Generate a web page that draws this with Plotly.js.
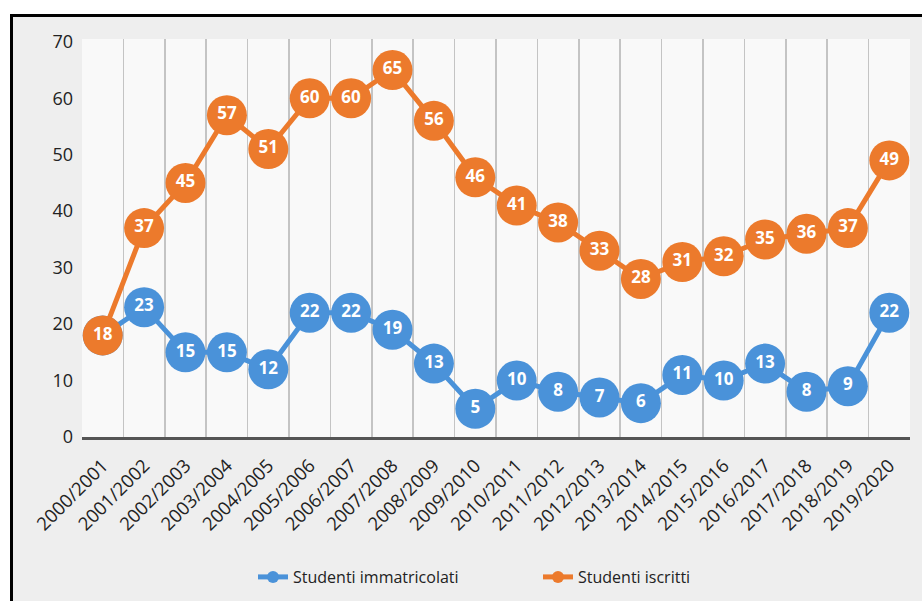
<!DOCTYPE html>
<html><head><meta charset="utf-8">
<script src="https://cdn.plot.ly/plotly-3.0.1.min.js"></script>
<style>
html,body{margin:0;padding:0;background:#fff;width:922px;height:601px;overflow:hidden;}
#frame{position:absolute;left:10px;top:14px;width:912px;height:587px;border-top:3px solid #000;border-left:3px solid #000;box-sizing:border-box;background:#eeeeee;}
#chart{width:909px;height:584px;}
</style></head>
<body>
<div id="frame"><div id="chart"></div></div>
<script>
const categories = ["2000/2001","2001/2002","2002/2003","2003/2004","2004/2005","2005/2006","2006/2007","2007/2008","2008/2009","2009/2010","2010/2011","2011/2012","2012/2013","2013/2014","2014/2015","2015/2016","2016/2017","2017/2018","2018/2019","2019/2020"];
const immatricolati = [18,23,15,15,12,22,22,19,13,5,10,8,7,6,11,10,13,8,9,22];
const iscritti = [18,37,45,57,51,60,60,65,56,46,41,38,33,28,31,32,35,36,37,49];
const yTicks = [0,10,20,30,40,50,60,70];

const blue = '#4a92d9', orange = '#ec7a2c';
const font = '"Open Sans", "Noto Sans", sans-serif';

function trace(name, y, color){
  return {
    type:'scatter', mode:'lines+markers+text', name:name,
    x:categories, y:y, text:y.map(String),
    textposition:'middle center',
    textfont:{family:font, size:17, color:'#ffffff', weight:'bold'},
    line:{color:color, width:5},
    marker:{color:color, size:40},
    cliponaxis:false
  };
}

const data = [trace('Studenti immatricolati', immatricolati, blue), trace('Studenti iscritti', iscritti, orange)];

const layout = {
  width:909, height:584,
  paper_bgcolor:'#eeeeee', plot_bgcolor:'#f9f9f9',
  margin:{l:69, r:12, t:22, b:164, autoexpand:false},
  font:{family:font, color:'#222'},
  showlegend:true,
  legend:{orientation:'h', x:(253-82)/828, xanchor:'left', y:(437-577)/398, yanchor:'middle',
          entrywidth:240, entrywidthmode:'pixels',
          font:{family:font, size:16, color:'#222'}, itemsizing:'constant', bgcolor:'rgba(0,0,0,0)'},
  xaxis:{type:'category', range:[-0.5,19.5], tickson:'boundaries', showgrid:true,
         gridcolor:'#c4c4c4', gridwidth:1.5, ticks:'', tickangle:-45, automargin:false,
         ticklabelstandoff:8,
         tickfont:{family:font, size:18.5, color:'#222'},
         showline:true, linecolor:'#555', linewidth:2.5},
  yaxis:{range:[0,70.5], tickvals:yTicks, showgrid:false, zeroline:false, showline:false, automargin:false,
         tickfont:{family:font, size:18, color:'#222'}, ticks:'', ticklabelstandoff:8},
};

Plotly.newPlot('chart', data, layout, {displayModeBar:false, staticPlot:true});
</script>
</body></html>
